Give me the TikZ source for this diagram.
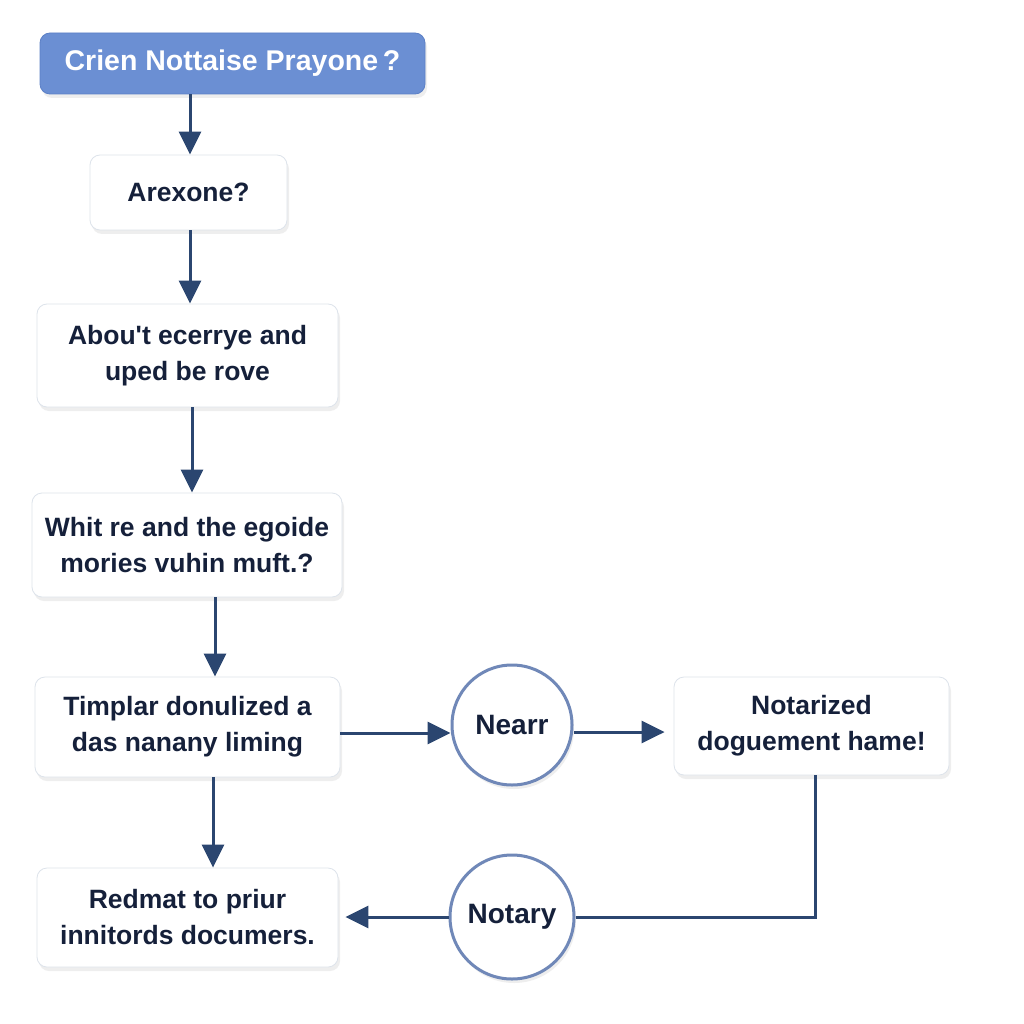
\documentclass[tikz,border=0pt]{standalone}
\usepackage{fontspec}
\setmainfont{Liberation Sans}
\usetikzlibrary{arrows.meta,shadows}
\definecolor{navy}{HTML}{2B4670}
\definecolor{txt}{HTML}{15203A}
\definecolor{titlefill}{HTML}{6B8FD3}
\definecolor{titledraw}{HTML}{5C80C6}
\definecolor{ringc}{HTML}{7088B8}
\definecolor{boxedge}{HTML}{DDE3EB}
\tikzset{
  card/.style={draw=boxedge, line width=0.8pt, fill=white, rounded corners=10pt,
    align=center, text=txt, font=\fontsize{26.5}{36}\selectfont\bfseries,
    inner sep=0pt,
    drop shadow={opacity=0.13, shadow xshift=2pt, shadow yshift=-4pt}},
  titlebox/.style={card, fill=titlefill, draw=titledraw, text=white,
    font=\fontsize{28.5}{34}\selectfont\bfseries},
  ring/.style={circle, draw=ringc, line width=3pt, fill=white, text=txt,
    font=\fontsize{28}{32}\selectfont\bfseries, minimum size=120pt, inner sep=0pt,
    drop shadow={opacity=0.13, shadow xshift=2pt, shadow yshift=-4pt}},
  arr/.style={draw=navy, line width=3pt, -{Triangle[length=23pt,width=22pt]}},
  plain/.style={draw=navy, line width=3pt}
}
\begin{document}
\begin{tikzpicture}[x=1pt,y=-1pt]
\fill[white] (0,0) rectangle (1024,1024);
\useasboundingbox (0,0) rectangle (1024,1024);

\node[titlebox, minimum width=385pt, minimum height=61pt] (t) at (232.5,63.5) {Crien Nottaise Prayone\,?};
\node[card, minimum width=197pt, minimum height=75pt] (a) at (188.5,192.5) {Arexone?};
\node[card, minimum width=301pt, minimum height=103pt] (b) at (187.5,355.5) {Abou\textquotesingle t ecerrye and\\uped be rove};
\node[card, minimum width=310pt, minimum height=104pt] (c) at (187,545) {Whit re and the egoide\\mories vuhin muft.?};
\node[card, minimum width=305pt, minimum height=100pt] (d) at (187.5,727) {Timplar donulized a\\das nanany liming};
\node[ring] (e) at (512,725) {Nearr};
\node[card, minimum width=275pt, minimum height=98pt] (f) at (811.5,726) {Notarized\\doguement hame!};
\node[ring, minimum size=124pt] (g) at (512,917) {Notary};
\node[card, minimum width=301pt, minimum height=99pt] (h) at (187.5,917.5) {Redmat to priur\\innitords documers.};

\draw[arr] (190,0 |- t.south) -- (190,0 |- a.north);
\draw[arr] (190,0 |- a.south) -- (190,0 |- b.north);
\draw[arr] (192,0 |- b.south) -- (192,0 |- c.north);
\draw[arr] (215,0 |- c.south) -- (215,0 |- d.north);
\draw[arr] (213,0 |- d.south) -- (213,0 |- h.north);
\draw[arr] (d.east |- 0,733) -- (e.west |- 0,733);
\draw[arr, shorten >=9pt] (e.east |- 0,732) -- (f.west |- 0,732);
\draw[plain] (815,0 |- f.south) |- (g.east);
\draw[arr, shorten >=7pt] (g.west) -- (h.east |- g.west);
\end{tikzpicture}
\end{document}
